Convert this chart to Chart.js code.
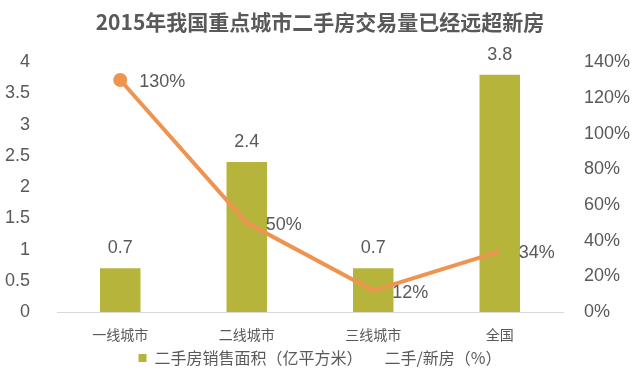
<!DOCTYPE html>
<html lang="zh-CN">
<head>
  <meta charset="UTF-8">
  <title>2015年二手房交易量</title>
  <script src="https://cdn.jsdelivr.net/npm/chart.js"></script>
  <style>
    html, body { margin: 0; padding: 0; background: #ffffff; }
    .chart-box { width: 640px; height: 384px; position: relative; }
  </style>
</head>
<body>
  <div class="chart-box">
    <canvas id="houseChart"></canvas>
  </div>

  <script>
    // 数据
    const categories = ['一线城市', '二线城市', '三线城市', '全国'];
    const areaValues = [0.7, 2.4, 0.7, 3.8];      // 二手房销售面积（亿平方米）
    const ratioValues = [130, 50, 12, 34];        // 二手/新房（%）
    const leftTicks = [0, 0.5, 1, 1.5, 2, 2.5, 3, 3.5, 4];
    const rightTicks = [0, 20, 40, 60, 80, 100, 120, 140];

    const textColor = '#595959';
    const numFont = '"Liberation Sans", Arial, sans-serif';
    const cjkFont = '"Noto Sans CJK SC", "Liberation Sans", sans-serif';

    // 数值标签
    const valueLabels = {
      id: 'valueLabels',
      afterDatasetsDraw(chart) {
        const ctx = chart.ctx;
        ctx.save();
        ctx.fillStyle = textColor;
        ctx.font = '18px ' + numFont;

        // 柱子（dataset 1）
        chart.getDatasetMeta(1).data.forEach(function(bar, i) {
          ctx.textAlign = 'center';
          ctx.textBaseline = 'bottom';
          ctx.fillText(String(areaValues[i]), bar.x, bar.y - 11);
        });

        // 折线（dataset 0）
        chart.getDatasetMeta(0).data.forEach(function(pt, i) {
          ctx.textAlign = 'left';
          ctx.textBaseline = 'middle';
          ctx.fillText(ratioValues[i] + '%', pt.x + 19, pt.y + 2);
        });
        ctx.restore();
      }
    };

    const ctx = document.getElementById('houseChart').getContext('2d');
    new Chart(ctx, {
      data: {
        labels: categories,
        datasets: [
          {
            type: 'line',
            label: '二手/新房（%）',
            data: ratioValues,
            yAxisID: 'y1',
            borderColor: '#EE9350',
            backgroundColor: '#EE9350',
            borderWidth: 4,
            pointRadius: [5, 0, 0, 0],
            pointHoverRadius: 5,
            tension: 0,
            order: 0
          },
          {
            type: 'bar',
            label: '二手房销售面积（亿平方米）',
            data: areaValues,
            yAxisID: 'y',
            backgroundColor: '#B7B43C',
            borderWidth: 0,
            barPercentage: 0.64,
            categoryPercentage: 0.5,
            order: 1
          }
        ]
      },
      options: {
        responsive: true,
        maintainAspectRatio: false,
        animation: false,
        layout: {
          padding: { left: 0, right: 0, top: 0, bottom: 8 }
        },
        plugins: {
          title: {
            display: true,
            text: '2015年我国重点城市二手房交易量已经远超新房',
            color: textColor,
            font: { family: cjkFont, size: 21, weight: 'bold' },
            padding: { top: 9, bottom: 28 }
          },
          legend: {
            position: 'bottom',
            reverse: true,
            labels: {
              color: textColor,
              font: { family: cjkFont, size: 16 },
              boxWidth: 8,
              boxHeight: 8,
              padding: 6,
              generateLabels: function(chart) {
                return chart.data.datasets.map(function(ds, i) {
                  const isBar = ds.type === 'bar';
                  return {
                    text: ds.label,
                    fillStyle: isBar ? ds.backgroundColor : 'rgba(0,0,0,0)',
                    strokeStyle: 'rgba(0,0,0,0)',
                    lineWidth: 0,
                    fontColor: textColor,
                    hidden: false,
                    datasetIndex: i
                  };
                });
              }
            }
          },
          tooltip: { enabled: false }
        },
        scales: {
          x: {
            grid: { display: false },
            border: { display: true, color: '#D9D9D9', width: 1 },
            ticks: {
              color: textColor,
              font: { family: cjkFont, size: 14 },
              padding: 6
            },
            afterFit: function(scale) { scale.height = 32; }
          },
          y: {
            position: 'left',
            min: 0,
            max: 4,
            afterBuildTicks: function(scale) {
              scale.ticks = leftTicks.map(function(v) { return { value: v }; });
            },
            grid: { display: false },
            border: { display: false },
            ticks: {
              color: textColor,
              font: { family: numFont, size: 18 },
              padding: 19,
              callback: function(value) { return String(value); }
            },
            afterFit: function(scale) { scale.width = 57; }
          },
          y1: {
            position: 'right',
            min: 0,
            max: 140,
            afterBuildTicks: function(scale) {
              scale.ticks = rightTicks.map(function(v) { return { value: v }; });
            },
            grid: { display: false },
            border: { display: false },
            ticks: {
              color: textColor,
              font: { family: numFont, size: 18 },
              padding: 13,
              callback: function(value) { return value + '%'; }
            },
            afterFit: function(scale) { scale.width = 77; }
          }
        }
      },
      plugins: [valueLabels]
    });
  </script>
</body>
</html>
